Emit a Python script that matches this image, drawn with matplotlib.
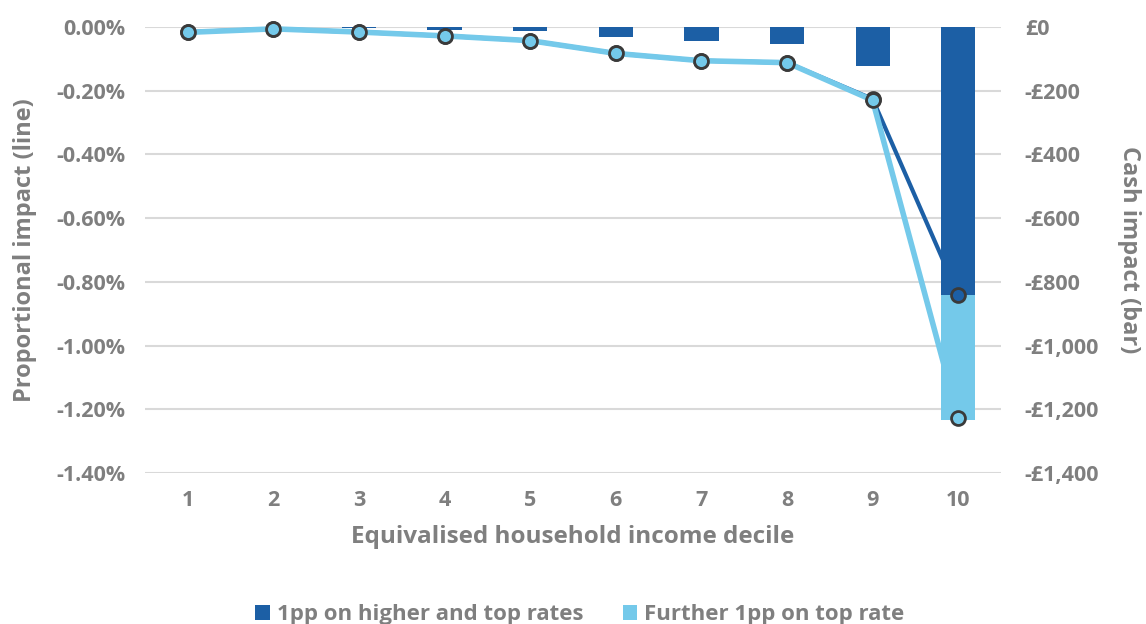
import numpy as np
import matplotlib
matplotlib.use("Agg")
import matplotlib.pyplot as plt
from matplotlib.ticker import FuncFormatter

# Data
deciles = ["1", "2", "3", "4", "5", "6", "7", "8", "9", "10"]
cash_higher_top = [-1, 0, -2, -8, -13, -31, -45, -53, -121, -841]      # £, dark bars
cash_further_top = [0, 0, 0, 0, 0, 0, 0, 0, 0, -392]                   # £, light bars stacked
prop_higher_top = [-0.016, -0.006, -0.016, -0.028, -0.043, -0.083, -0.106, -0.112, -0.226, -0.841]  # %
prop_combined = [-0.017, -0.006, -0.016, -0.028, -0.043, -0.083, -0.106, -0.112, -0.230, -1.227]   # %

left_ticks = [0, -0.2, -0.4, -0.6, -0.8, -1.0, -1.2, -1.4]
right_ticks = [0, -200, -400, -600, -800, -1000, -1200, -1400]

DARK = "#1C5FA5"
LIGHT = "#74C9EA"
TEXT = "#7F7F7F"
EDGE = "#3A3A3A"

plt.rcParams["font.family"] = ["Open Sans", "DejaVu Sans"]
plt.rcParams["font.weight"] = "bold"

fig = plt.figure(figsize=(11.46, 6.24), dpi=100)
ax = fig.add_axes([0.1265, 0.242, 0.747, 0.7148])
ax2 = ax.twinx()

x = np.arange(len(deciles))

# bars on the right (cash) axis
ax2.bar(x, cash_higher_top, width=0.4, color=DARK, zorder=2, label="1pp on higher and top rates")
ax2.bar(x, cash_further_top, width=0.4, bottom=cash_higher_top, color=LIGHT, zorder=2,
        label="Further 1pp on top rate")
ax2.set_ylim(-1400, 0)
ax2.set_yticks(right_ticks)
ax2.yaxis.set_major_formatter(FuncFormatter(
    lambda v, p: "£0" if v == 0 else f"-£{abs(v):,.0f}"))
ax2.grid(axis="y", color="#D9D9D9", lw=1.5, zorder=0)
ax2.set_axisbelow(True)

# lines on the left (proportional) axis, drawn above the bars
ax.set_zorder(ax2.get_zorder() + 1)
ax.patch.set_visible(False)
ax.plot(x, prop_higher_top, color=DARK, lw=3, marker="o", ms=10, mfc=DARK, mec=EDGE, mew=2,
        zorder=3, clip_on=False)
ax.plot(x, prop_combined, color=LIGHT, lw=4, marker="o", ms=10, mfc=LIGHT, mec=EDGE, mew=2,
        zorder=4, clip_on=False)
ax.set_ylim(-1.4, 0)
ax.set_yticks(left_ticks)
ax.yaxis.set_major_formatter(FuncFormatter(lambda v, p: f"{v:.2f}%" if v != 0 else "0.00%"))
ax.set_xlim(-0.5, len(deciles) - 0.5)
ax.set_xticks(x)
ax.set_xticklabels(deciles)

for a in (ax, ax2):
    for s in a.spines.values():
        s.set_visible(False)
    a.tick_params(length=0, colors=TEXT, labelsize=15.5)
ax.tick_params(axis="y", pad=14)
ax.tick_params(axis="x", pad=12)
ax2.tick_params(axis="y", pad=17)

ax.set_xlabel("Equivalised household income decile", color=TEXT, fontsize=17.5, fontweight="bold",
              labelpad=10)
ax.set_ylabel("Proportional impact (line)", color=TEXT, fontsize=17, fontweight="bold", labelpad=14)
ax2.set_ylabel("Cash impact (bar)", color=TEXT, fontsize=17, fontweight="bold", rotation=270,
               labelpad=30)

handles, labels = ax2.get_legend_handles_labels()
leg = fig.legend(handles, labels, loc="lower center", bbox_to_anchor=(0.506, -0.034), ncol=2,
                 frameon=False, fontsize=16, handlelength=0.65, handleheight=0.65,
                 handletextpad=0.3, columnspacing=1.8)
for t in leg.get_texts():
    t.set_color(TEXT)
    t.set_fontweight("bold")

fig.savefig("out.png", dpi=100)
